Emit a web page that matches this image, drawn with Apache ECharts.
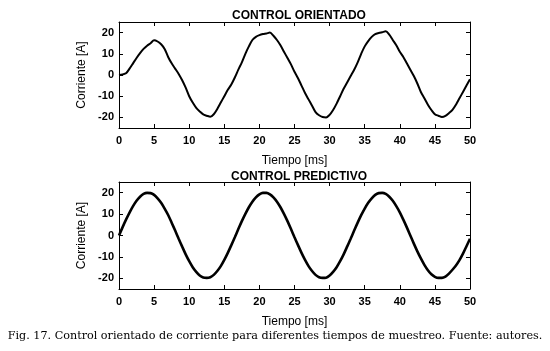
<!DOCTYPE html>
<html>
<head>
<meta charset="utf-8">
<script src="https://cdn.jsdelivr.net/npm/echarts@6/dist/echarts.min.js"></script>
<style>
  html, body { margin: 0; padding: 0; background: #fff; }
  #chart { width: 550px; height: 351px; }
</style>
</head>
<body>
<div id="chart"></div>
<script>
// tiempo de muestreo, cada 0.5 ms
var tiempoMs = [
  0, 0.5, 1, 1.5, 2, 2.5, 3, 3.5, 4, 4.5, 5, 5.5, 6, 6.5, 7, 7.5, 8, 8.5, 9, 9.5,
  10, 10.5, 11, 11.5, 12, 12.5, 13, 13.5, 14, 14.5, 15, 15.5, 16, 16.5, 17, 17.5, 18, 18.5, 19, 19.5,
  20, 20.5, 21, 21.5, 22, 22.5, 23, 23.5, 24, 24.5, 25, 25.5, 26, 26.5, 27, 27.5, 28, 28.5, 29, 29.5,
  30, 30.5, 31, 31.5, 32, 32.5, 33, 33.5, 34, 34.5, 35, 35.5, 36, 36.5, 37, 37.5, 38, 38.5, 39, 39.5,
  40, 40.5, 41, 41.5, 42, 42.5, 43, 43.5, 44, 44.5, 45, 45.5, 46, 46.5, 47, 47.5, 48, 48.5, 49, 49.5, 50
]

// corriente [A] - control orientado
var corrienteOrientado = [
  0, 0.3, 0.8, 3, 5.5, 8, 10.3, 12.3, 13.8, 15, 16.4, 15.8, 14.5, 12.3, 8.5, 5.5, 3, 0.5, -2.5, -6,
  -10, -13, -15.5, -17.2, -18.6, -19.2, -19.7, -18.5, -16, -13, -10, -7, -4.5, -1.2, 2.5, 6, 10, 13.5, 16.5, 18,
  18.8, 19.3, 19.6, 20, 18.5, 16.5, 14, 11, 8, 5, 1.5, -1.5, -5, -8.5, -11.5, -14.5, -17.5, -19, -19.8, -20,
  -18.8, -16.5, -13.5, -10, -6.5, -3.5, -0.5, 2.5, 6, 10, 13.5, 16, 18, 19.3, 19.8, 20.2, 20.6, 19, 16.5, 14,
  11, 8.5, 5.5, 2.5, -0.5, -4, -8, -11, -14, -16.5, -18.5, -19.2, -19.8, -19.3, -18, -16.5, -14, -11, -8, -5, -2
]

// corriente [A] - control predictivo
var corrientePredictivo = [
  0, 3.8, 7.4, 10.7, 13.7, 16.2, 18.1, 19.4, 19.9, 19.8, 19, 17.4, 15.3, 12.6, 9.6, 6, 2.3, -1.5, -5.2, -8.8,
  -12, -14.8, -17, -18.7, -19.6, -19.8, -19.5, -18.4, -16.6, -14.3, -11.4, -8.1, -4.5, -0.8, 3, 6.7, 10.1, 13.2, 15.8, 17.8,
  19.2, 19.9, 19.9, 19.2, 17.8, 15.8, 13.2, 10.1, 6.7, 3, -0.8, -4.5, -8.1, -11.4, -14.3, -16.6, -18.4, -19.5, -19.8, -19.7,
  -18.7, -17, -14.8, -12, -8.8, -5.2, -1.5, 2.3, 6, 9.5, 12.6, 15.3, 17.4, 19, 19.8, 19.9, 19.4, 18.1, 16.2, 13.7,
  10.8, 7.4, 3.8, 0, -3.8, -7.4, -10.7, -13.7, -16.2, -18.1, -19.3, -19.8, -19.8, -19.2, -17.8, -16, -14, -11.5, -8.5, -5, -1.5
]

var xTicks = [0, 5, 10, 15, 20, 25, 30, 35, 40, 45, 50]
var yTicks = [-20, -10, 0, 10, 20]
var titulos = ['CONTROL ORIENTADO', 'CONTROL PREDICTIVO']
var pie = 'Fig. 17. Control orientado de corriente para diferentes tiempos de muestreo. Fuente: autores.'

function pares(valores) {
  var out = []
  for (var i = 0; i < tiempoMs.length; i++) {
    out.push([tiempoMs[i], valores[i]])
  }
  return out
}

var fuente = '"Liberation Sans", Arial, sans-serif'
var grids = [
  { left: 119, top: 22, width: 351, height: 106 },
  { left: 119, top: 182, width: 351, height: 107 }
]

var xAxes = []
var yAxes = []
grids.forEach(function (g, i) {
  // eje inferior con etiquetas
  xAxes.push({
    type: 'value', gridIndex: i, min: 0, max: 50, interval: 5,
    name: 'Tiempo [ms]', nameLocation: 'middle', nameGap: 27,
    nameTextStyle: { color: '#000', fontSize: 12, fontFamily: fuente },
    axisLine: { show: true, onZero: false, lineStyle: { color: '#000', width: 1 } },
    axisTick: { show: true, inside: true, length: 4, lineStyle: { color: '#000' } },
    axisLabel: { color: '#000', fontSize: 11, fontWeight: 'bold', fontFamily: fuente, margin: 7 },
    splitLine: { show: false }
  })
  // eje superior solo con marcas
  xAxes.push({
    type: 'value', gridIndex: i, min: 0, max: 50, interval: 5, position: 'top',
    axisLine: { show: true, onZero: false, lineStyle: { color: '#000', width: 1 } },
    axisTick: { show: true, inside: true, length: 4, lineStyle: { color: '#000' } },
    axisLabel: { show: false },
    splitLine: { show: false }
  })
  yAxes.push({
    type: 'value', gridIndex: i, min: -25, max: 25,
    name: 'Corriente [A]', nameLocation: 'middle', nameGap: 29,
    nameTextStyle: { color: '#000', fontSize: 12, fontFamily: fuente },
    axisLine: { show: true, onZero: false, lineStyle: { color: '#000', width: 1 } },
    axisTick: { show: true, inside: true, length: 4, customValues: yTicks, lineStyle: { color: '#000' } },
    axisLabel: { color: '#000', fontSize: 11, fontWeight: 'bold', fontFamily: fuente, margin: 5, customValues: yTicks },
    splitLine: { show: false }
  })
  yAxes.push({
    type: 'value', gridIndex: i, min: -25, max: 25, position: 'right',
    axisLine: { show: true, onZero: false, lineStyle: { color: '#000', width: 1 } },
    axisTick: { show: true, inside: true, length: 4, customValues: yTicks, lineStyle: { color: '#000' } },
    axisLabel: { show: false },
    splitLine: { show: false }
  })
})

var chart = echarts.init(document.getElementById('chart'), null, { renderer: 'canvas' })
chart.setOption({
  backgroundColor: '#fff',
  animation: false,
  title: [
    { text: titulos[0], left: 294, top: 5, textAlign: 'center',
      textStyle: { color: '#000', fontSize: 12, fontWeight: 'bold', fontFamily: fuente } },
    { text: titulos[1], left: 294, top: 166, textAlign: 'center',
      textStyle: { color: '#000', fontSize: 12, fontWeight: 'bold', fontFamily: fuente } }
  ],
  grid: grids,
  xAxis: xAxes,
  yAxis: yAxes,
  series: [
    { type: 'line', xAxisIndex: 0, yAxisIndex: 0, data: pares(corrienteOrientado),
      showSymbol: false, smooth: 0.3, lineStyle: { color: '#000', width: 2 } },
    { type: 'line', xAxisIndex: 2, yAxisIndex: 2, data: pares(corrientePredictivo),
      showSymbol: false, smooth: 0.3, lineStyle: { color: '#000', width: 2.6 } }
  ],
  graphic: [
    { type: 'text', left: 'center', top: 331,
      style: { text: pie, fill: '#000', font: '11.2px "DejaVu Serif", "Liberation Serif", serif' } }
  ]
})
</script>
</body>
</html>
